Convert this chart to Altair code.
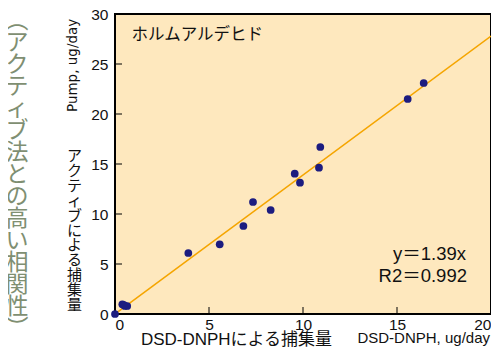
import altair as alt
import pandas as pd

dsd = [0.0, 0.39, 0.53, 0.65, 0.48, 3.9, 5.57, 6.83, 7.34, 8.28, 9.56, 9.84, 10.85, 10.92, 15.57, 16.42]
pump = [0.0, 0.97, 0.8, 0.8, 0.9, 6.1, 6.97, 8.8, 11.2, 10.4, 14.03, 13.13, 14.63, 16.7, 21.5, 23.1]
slope = 1.39
fit_x = [0, 20]
x_ticks = [0, 5, 10, 15, 20]
y_ticks = [0, 5, 10, 15, 20, 25, 30]

FONT = "Liberation Sans, Noto Sans CJK JP"
JFONT = "Noto Sans CJK JP"

pts = pd.DataFrame({"x": dsd, "y": pump})
fit = pd.DataFrame({"x": fit_x, "y": [slope * v for v in fit_x]})

xs = alt.Scale(domain=[0, 20], nice=False, zero=True)
ys = alt.Scale(domain=[0, 30], nice=False, zero=True)

xax = alt.Axis(values=x_ticks, ticks=False, domain=False, grid=False, labelFontSize=15.5,
               labelFont=FONT, labelColor="#111111", labelPadding=3, title=None)
yax = alt.Axis(values=y_ticks, ticks=False, domain=False, grid=False, labelFontSize=15.5,
               labelFont=FONT, labelColor="#111111", labelPadding=7, title=None)

line = alt.Chart(fit).mark_line(color="#F5A500", strokeWidth=1.5, clip=True).encode(
    x=alt.X("x:Q", scale=xs, axis=xax), y=alt.Y("y:Q", scale=ys, axis=yax))

points = alt.Chart(pts).mark_circle(color="#1C1C80", opacity=1, size=60).encode(
    x=alt.X("x:Q", scale=xs), y=alt.Y("y:Q", scale=ys))

xt = alt.Chart(pd.DataFrame({"t": x_ticks[1:-1]})).mark_rule(color="#000000", strokeWidth=1).encode(
    x=alt.X("t:Q", scale=xs), y=alt.value(300), y2=alt.value(293))
yt = alt.Chart(pd.DataFrame({"t": y_ticks[1:-1]})).mark_rule(color="#000000", strokeWidth=1).encode(
    y=alt.Y("t:Q", scale=ys), x=alt.value(0), x2=alt.value(7))

def label(text, x, y, size, color="#111111", align="left", baseline="middle", font=FONT,
          angle=0, lineHeight=None):
    kw = dict(text=text, align=align, baseline=baseline, fontSize=size, font=font, color=color)
    if angle:
        kw["angle"] = angle
    if lineHeight:
        kw["lineHeight"] = lineHeight
        kw["lineBreak"] = "\n"
    return alt.Chart(pd.DataFrame({"a": [0]})).mark_text(**kw).encode(x=alt.value(x), y=alt.value(y))

big = "\n".join(list("︵アクティブ法との高い相関性︶"))
ylab = "\n".join(list("アクティブによる捕集量"))

texts = [
    label("ホルムアルデヒド", 16.5, 20.5, 16.5, font=JFONT),
    label("y＝1.39x", 351, 240, 18.5, align="right"),
    label("R2＝0.992", 352, 261.5, 18.5, align="right"),
    label("DSD-DNPHによる捕集量", 121.5, 331, 17, align="center", baseline="alphabetic"),
    label("DSD-DNPH, ug/day", 375, 329, 15, align="right", baseline="alphabetic"),
    label("Pump, ug/day", -42, 98, 13.5, align="left", angle=270, font="DejaVu Sans"),
    label(ylab, -40.5, 135, 15, align="center", baseline="top", font=JFONT, lineHeight=14.9),
    label(big, -98, -4, 23, color="#7F8F72", align="center", baseline="top", font=JFONT, lineHeight=22),
]

chart = alt.layer(line, points, xt, yt, *texts).properties(
    width=376, height=300,
    autosize=alt.AutoSizeParams(type="none"),
    padding={"left": 107, "top": 6, "right": 0, "bottom": 34},
    background="#FFFFFF",
).configure_view(fill="#FEE8BE", stroke="#000000", strokeWidth=2)

chart.save("out.html", embed_options={"renderer": "svg", "actions": False})
